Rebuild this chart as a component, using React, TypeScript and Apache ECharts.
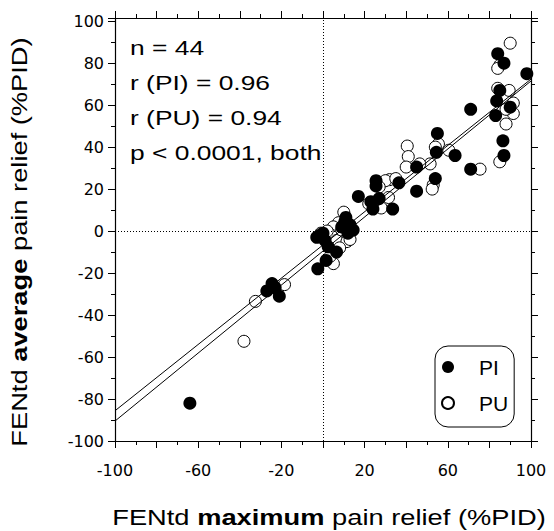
import React, { useEffect, useRef } from 'react';
import * as echarts from 'echarts';

// PI (filled circles): [maximum %PID, average %PID]
const piPoints = [
  [98, 75], [84, 84.5], [87, 80], [85, 67], [83.5, 62], [90, 59], [83, 55], [71, 58],
  [86.5, 43], [87, 36], [71, 29.5], [63.5, 36], [55, 46.5], [54.5, 37.5], [54, 25],
  [45, 30.5], [45, 19], [36.5, 23], [25.5, 24], [25.5, 21.5], [17, 16.5], [23, 14],
  [27, 15.5], [24, 10.5], [33.5, 10.5], [11, 6.5], [10.5, 4.5], [13, 3], [9, 2],
  [14.5, 0.5], [-1.5, -2], [-3, -3], [1, -4.5], [2.5, -7.5], [6.5, -10], [1.5, -14],
  [-2.5, -18], [-24.5, -25], [-27, -28.5], [-21, -31], [-23, -27], [-64, -82], [12, -1], [0, -1],
];

// PU (open circles)
const puPoints = [
  [90, 89.5], [85, 79], [84, 68], [89.5, 67], [91.5, 61], [91.5, 56], [88, 51], [85, 33],
  [75.5, 29.5], [55.5, 41.5], [60.5, 38.5], [53, 22], [52.5, 20], [51.5, 32], [40.5, 40.5],
  [41, 35.5], [40, 30.5], [46.5, 32], [32, 24.5], [30, 24], [28, 11], [31.5, 16], [10, 9],
  [7.5, 4], [5, 2], [4, -2], [6.5, -4.5], [11.5, -5], [13, -4], [5, -15.5], [-18.5, -25.5],
  [-32.5, -33.5], [-38, -52.5], [84, 77.5], [8, -8], [2, 0], [88, 58], [27, 21], [54, 40],
  [9, 0.5], [3.5, -12], [-1, -1], [22, 13], [35, 25],
];

// regression line end points
const piFitLine = [[-100, -90.5], [100, 71.5]];
const puFitLine = [[-100, -85.6], [100, 72.4]];

const seriesNames = ['PI', 'PU'];
const xTickLabels = [-100, -60, -20, 20, 60, 100];
const yTickLabels = [-100, -80, -60, -40, -20, 0, 20, 40, 60, 80, 100];
const statsLines = ['n = 44', 'r (PI) = 0.96', 'r (PU) = 0.94', 'p < 0.0001, both'];
const xTitle = ['FENtd ', 'maximum', ' pain relief (%PID)'];
const yTitle = ['FENtd ', 'average', ' pain relief (%PID)'];

const SANS = '"Liberation Sans", Arial, Helvetica, sans-serif';
const TICKFONT = '"DejaVu Sans", sans-serif';

function axisBase(min: number, max: number, position: string, labels: number[] | null, margin: number) {
  return {
    type: 'value',
    min,
    max,
    interval: 20,
    position,
    axisLine: { show: true, onZero: false, lineStyle: { color: '#000', width: 1.2 } },
    axisTick: { show: true, inside: false, length: 7, lineStyle: { color: '#000', width: 1 } },
    minorTick: { show: true, splitNumber: 2, length: 4, lineStyle: { color: '#000', width: 1 } },
    splitLine: { show: false },
    minorSplitLine: { show: false },
    axisLabel: labels
      ? {
          show: true,
          margin,
          color: '#000',
          fontFamily: TICKFONT,
          fontSize: 16,
          formatter: (v: number) => (labels.indexOf(v) >= 0 ? String(v) : ''),
        }
      : { show: false },
  };
}

export default function App() {
  const ref = useRef<HTMLDivElement>(null);
  useEffect(() => {
    document.body.style.margin = '0';
    if (!ref.current) return;
    const chart = echarts.init(ref.current, null, { renderer: 'svg' });
    const rich = {
      n: { fontSize: 22, fontFamily: SANS, color: '#000' },
      b: { fontSize: 22, fontFamily: SANS, fontWeight: 'bold', color: '#000' },
    };
    const titleText = (parts: string[]) => `{n|${parts[0]}}{b|${parts[1]}}{n|${parts[2]}}`;
    const statsY = [48, 83, 118, 153];
    chart.setOption({
      animation: false,
      backgroundColor: '#fff',
      grid: { left: 115, right: 23, top: 18, bottom: 90, containLabel: false },
      xAxis: [axisBase(-100, 100, 'bottom', xTickLabels, 21), axisBase(-100, 100, 'top', null, 0)],
      yAxis: [axisBase(-100, 101.5, 'left', yTickLabels, 11), axisBase(-100, 101.5, 'right', null, 0)],
      legend: {
        data: [seriesNames[0], seriesNames[1]],
        orient: 'vertical',
        left: 435,
        top: 346,
        padding: [9, 6, 12, 6],
        itemWidth: 24,
        itemHeight: 12,
        itemGap: 12,
        icon: 'circle',
        borderColor: '#000',
        borderWidth: 1,
        borderRadius: 13,
        backgroundColor: '#fff',
        textStyle: { fontSize: 21, fontFamily: SANS, color: '#000', lineHeight: 24, padding: [0, 0, 0, 14] },
      },
      series: [
        {
          name: seriesNames[1],
          type: 'scatter',
          data: puPoints,
          symbol: 'circle',
          symbolSize: 12,
          itemStyle: { color: '#fff', borderColor: '#000', borderWidth: 1, opacity: 1 },
          markLine: {
            silent: true,
            symbol: 'none',
            label: { show: false },
            lineStyle: { color: '#000', width: 1, type: [1, 2] },
            data: [{ xAxis: 0 }, { yAxis: 0 }],
          },
        },
        {
          name: seriesNames[0],
          type: 'scatter',
          data: piPoints,
          symbol: 'circle',
          symbolSize: 13,
          itemStyle: { color: '#000', opacity: 1 },
        },
        {
          name: 'PI fit',
          type: 'line',
          data: piFitLine,
          symbol: 'none',
          silent: true,
          lineStyle: { color: '#000', width: 1 },
        },
        {
          name: 'PU fit',
          type: 'line',
          data: puFitLine,
          symbol: 'none',
          silent: true,
          lineStyle: { color: '#000', width: 1 },
        },
      ],
      graphic: [
        ...statsLines.map((t, i) => ({
          type: 'text',
          x: 130,
          y: statsY[i],
          scaleX: 1.32,
          style: { text: t, fontSize: 20, fontFamily: SANS, fill: '#000', align: 'left', verticalAlign: 'middle' },
        })),
        {
          type: 'text',
          x: 329,
          y: 517,
          scaleX: 1.24,
          style: { text: titleText(xTitle), rich, fill: '#000', align: 'center', verticalAlign: 'middle', fontSize: 22, fontFamily: SANS },
        },
        {
          type: 'text',
          x: 19,
          y: 242,
          rotation: Math.PI / 2,
          scaleX: 1.24,
          style: { text: titleText(yTitle), rich, fill: '#000', align: 'center', verticalAlign: 'middle', fontSize: 22, fontFamily: SANS },
        },
      ],
    });
    return () => chart.dispose();
  }, []);
  return <div ref={ref} style={{ width: 554, height: 531 }} />;
}
